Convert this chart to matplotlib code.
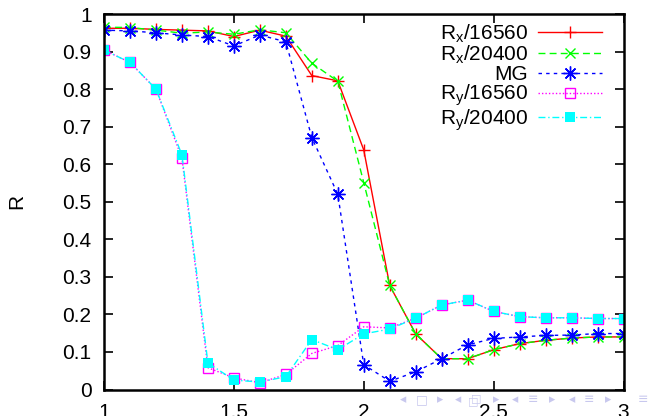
import matplotlib
matplotlib.use("Agg")
from matplotlib import pyplot as plt

plt.rcParams['font.family'] = ['Liberation Sans', 'DejaVu Sans']
plt.rcParams['mathtext.default'] = 'regular'

x = [1.0, 1.1, 1.2, 1.3, 1.4, 1.5, 1.6, 1.7, 1.8, 1.9, 2.0,
     2.1, 2.2, 2.3, 2.4, 2.5, 2.6, 2.7, 2.8, 2.9, 3.0]

rx_16560 = [0.962, 0.962, 0.959, 0.957, 0.955, 0.940, 0.957, 0.941, 0.836, 0.822, 0.638,
            0.277, 0.148, 0.082, 0.082, 0.106, 0.122, 0.131, 0.137, 0.140, 0.140]
rx_20400 = [0.965, 0.964, 0.957, 0.949, 0.952, 0.946, 0.958, 0.950, 0.869, 0.821, 0.551,
            0.277, 0.148, 0.082, 0.082, 0.106, 0.122, 0.131, 0.137, 0.140, 0.140]
mg = [0.957, 0.955, 0.950, 0.944, 0.940, 0.915, 0.944, 0.926, 0.671, 0.520, 0.066,
      0.022, 0.047, 0.082, 0.119, 0.136, 0.140, 0.144, 0.145, 0.149, 0.149]
ry_16560 = [0.904, 0.871, 0.800, 0.616, 0.058, 0.031, 0.018, 0.040, 0.096, 0.117, 0.167,
            0.164, 0.190, 0.225, 0.238, 0.208, 0.194, 0.191, 0.191, 0.189, 0.189]
ry_20400 = [0.904, 0.871, 0.800, 0.625, 0.071, 0.025, 0.020, 0.034, 0.133, 0.106, 0.148,
            0.161, 0.190, 0.225, 0.238, 0.208, 0.194, 0.191, 0.191, 0.189, 0.189]

fig = plt.figure(figsize=(6.49, 4.16), dpi=100)
ax = fig.add_axes([104/649, 1 - 389.5/416, 519.5/649, 375.5/416])

ax.plot(x, rx_16560, color='#ff0000', lw=1, marker='+', ms=9, mew=1,
        label=r'R$_x$/16560')
ax.plot(x, rx_20400, color='#00ff00', lw=1, ls=(0, (5, 3)), marker='x', ms=7, mew=1,
        label=r'R$_x$/20400')
ax.plot(x, mg, color='#0000ff', lw=1, ls=(0, (2.5, 3)), marker=(8, 2, 0), ms=10, mew=1,
        label='MG')
ax.plot(x, ry_16560, color='#ff00ff', lw=1, ls=(0, (1, 1.5)), marker='s', ms=7.5,
        mfc='none', mew=1, label=r'R$_y$/16560')
ax.plot(x, ry_20400, color='#00ffff', lw=1, ls=(0, (5, 2, 1, 2)), marker='s', ms=7.5,
        mew=0, label=r'R$_y$/20400')

ax.set_xlim(1, 3)
ax.set_ylim(0, 1)
ax.set_xticks([1, 1.5, 2, 2.5, 3])
ax.set_xticklabels(['1', '1.5', '2', '2.5', '3'])
ax.set_yticks([i / 10 for i in range(11)])
ax.set_yticklabels(['0', '0.1', '0.2', '0.3', '0.4', '0.5', '0.6', '0.7', '0.8', '0.9', '1'])
ax.tick_params(direction='in', length=6.5, width=1.2, labelsize=15,
               top=True, right=True)
ax.tick_params(axis='x', pad=10)
ax.tick_params(axis='y', pad=9)
for s in ax.spines.values():
    s.set_linewidth(1.8)

ax.set_ylabel('R', fontsize=15, labelpad=26)

leg = ax.legend(loc='upper right', frameon=False, markerfirst=False, fontsize=15,
                handlelength=3.1, handletextpad=0.45, labelspacing=-0.05,
                borderaxespad=0.0, bbox_to_anchor=(0.975, 1.0))

# beamer navigation symbols
nav = [(403, '◂'), (422, '□'), (440, '▸'), (458, '◂'), (496, '▸'),
       (515, '◂'), (533, '≡'), (552, '▸'), (572, '◂'), (589, '≡'), (608, '▸'), (643, '≡')]
for px, ch in nav:
    fig.text(px / 649, 1 - 400 / 416, ch, color='#c8c8ee', fontsize=9,
             ha='center', va='center', family=['DejaVu Sans'])
# stacked-windows icon drawn as two offset boxes
fig.text(473 / 649, 1 - 401 / 416, '□', color='#c8c8ee', fontsize=8,
         ha='center', va='center', family=['DejaVu Sans'])
fig.text(476 / 649, 1 - 398 / 416, '□', color='#c8c8ee', fontsize=8,
         ha='center', va='center', family=['DejaVu Sans'])

fig.savefig('out.png', dpi=100)
